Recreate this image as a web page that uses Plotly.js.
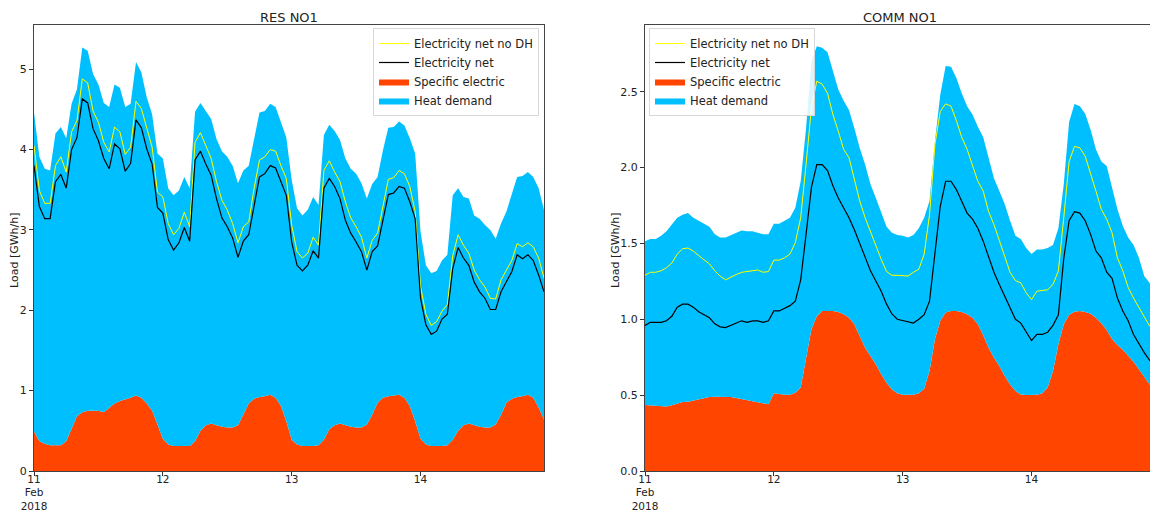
<!DOCTYPE html>
<html>
<head>
<meta charset="utf-8">
<script src="https://cdn.plot.ly/plotly-3.0.1.min.js"></script>
<style>html,body{margin:0;padding:0;background:#fff;}#chart{width:1150px;height:513px;}</style>
</head>
<body>
<div id="chart"></div>
<script>
// ---- Data (hourly, 11 Feb 2018 00:00 .. 14 Feb 2018 23:00) ----
var startDate = [2018, 1, 11];
var hoursCount = 96;
var tickDates = ['2018-02-11', '2018-02-12', '2018-02-13', '2018-02-14'];
var tickLabels = ['11<br>Feb<br>2018', '12', '13', '14'];
var seriesNames = ['Electricity net no DH', 'Electricity net', 'Specific electric', 'Heat demand'];
var panelTitles = ['RES NO1', 'COMM NO1'];

// RES NO1
var resHeatTop = [4.46,3.91,3.76,3.74,4.20,4.28,4.14,4.57,4.75,5.27,5.23,4.94,4.81,4.58,4.53,4.81,4.77,4.53,4.57,5.09,4.96,4.65,4.44,3.95,3.89,3.52,3.43,3.49,3.66,3.52,4.47,4.58,4.48,4.38,4.13,3.98,3.91,3.80,3.58,3.74,3.80,4.13,4.46,4.48,4.57,4.53,4.34,4.15,
  3.62,3.27,3.18,3.25,3.41,3.31,4.18,4.31,4.23,4.12,3.89,3.76,3.70,3.58,3.39,3.57,3.66,3.99,4.27,4.28,4.35,4.30,4.14,3.95,2.98,2.56,2.46,2.49,2.62,2.69,3.43,3.52,3.41,3.39,3.18,3.14,3.06,3.00,2.89,3.08,3.23,3.45,3.66,3.67,3.72,3.66,3.52,3.25];
var resNetNoDH = [4.05,3.49,3.33,3.33,3.80,3.91,3.72,4.22,4.36,4.88,4.83,4.48,4.34,4.09,3.97,4.28,4.22,3.94,4.03,4.60,4.51,4.26,4.03,3.47,3.41,3.08,2.94,3.02,3.22,3.04,4.09,4.21,4.05,3.89,3.60,3.37,3.25,3.08,2.84,3.04,3.10,3.52,3.87,3.91,4.00,3.98,3.80,3.64,
  3.06,2.73,2.65,2.71,2.91,2.81,3.74,3.86,3.72,3.60,3.35,3.15,3.04,2.91,2.65,2.87,2.96,3.31,3.63,3.65,3.74,3.70,3.54,3.23,2.30,1.95,1.81,1.86,1.99,2.07,2.68,2.94,2.81,2.71,2.50,2.38,2.29,2.15,2.14,2.38,2.50,2.62,2.83,2.79,2.84,2.79,2.65,2.40];
var resNet = [3.80,3.29,3.14,3.14,3.60,3.69,3.52,4.00,4.15,4.63,4.58,4.26,4.11,3.89,3.76,4.07,4.01,3.73,3.83,4.37,4.27,4.01,3.82,3.28,3.21,2.88,2.75,2.84,3.03,2.86,3.87,3.98,3.82,3.68,3.39,3.15,3.04,2.90,2.66,2.86,2.94,3.31,3.66,3.70,3.80,3.77,3.60,3.43,
  2.85,2.56,2.49,2.56,2.74,2.65,3.52,3.64,3.54,3.39,3.12,2.96,2.85,2.73,2.50,2.73,2.80,3.14,3.44,3.46,3.54,3.52,3.35,3.14,2.15,1.82,1.70,1.74,1.89,1.95,2.52,2.78,2.65,2.56,2.35,2.23,2.15,2.01,2.01,2.23,2.35,2.48,2.69,2.64,2.69,2.62,2.44,2.23];
var resSpecific = [0.49,0.37,0.34,0.32,0.32,0.32,0.37,0.52,0.68,0.73,0.75,0.75,0.75,0.73,0.78,0.84,0.87,0.89,0.91,0.94,0.91,0.84,0.75,0.58,0.40,0.33,0.31,0.31,0.31,0.31,0.37,0.50,0.57,0.59,0.57,0.55,0.54,0.54,0.57,0.70,0.84,0.90,0.92,0.93,0.95,0.91,0.81,0.62,
  0.39,0.33,0.31,0.31,0.31,0.32,0.39,0.52,0.57,0.59,0.57,0.55,0.54,0.54,0.58,0.70,0.85,0.91,0.93,0.94,0.95,0.91,0.81,0.62,0.40,0.33,0.31,0.31,0.31,0.32,0.39,0.50,0.57,0.59,0.57,0.55,0.54,0.54,0.58,0.70,0.85,0.90,0.92,0.93,0.95,0.91,0.79,0.64];

// COMM NO1
var commHeatTop = [1.515,1.53,1.53,1.55,1.58,1.625,1.67,1.69,1.70,1.67,1.65,1.625,1.61,1.56,1.54,1.54,1.555,1.57,1.585,1.58,1.58,1.57,1.56,1.56,1.63,1.63,1.65,1.67,1.735,1.91,2.26,2.70,2.80,2.79,2.76,2.64,2.515,2.44,2.38,2.26,2.13,2.02,1.89,1.80,1.70,1.61,1.57,1.555,
  1.55,1.54,1.555,1.60,1.67,1.78,2.17,2.48,2.67,2.665,2.59,2.49,2.405,2.35,2.27,2.20,2.065,1.93,1.845,1.76,1.65,1.55,1.53,1.47,1.43,1.46,1.46,1.47,1.49,1.60,1.89,2.30,2.42,2.405,2.355,2.25,2.12,2.04,2.01,1.87,1.725,1.615,1.54,1.49,1.405,1.285,1.24,1.21];
var commNetNoDH = [1.29,1.31,1.31,1.32,1.34,1.37,1.43,1.465,1.47,1.45,1.42,1.39,1.365,1.32,1.285,1.26,1.28,1.295,1.31,1.315,1.32,1.325,1.31,1.315,1.39,1.39,1.405,1.43,1.505,1.67,2.02,2.395,2.57,2.55,2.49,2.35,2.24,2.12,2.065,1.93,1.78,1.67,1.58,1.48,1.395,1.315,1.29,1.29,
  1.29,1.285,1.31,1.33,1.43,1.69,2.15,2.37,2.42,2.405,2.31,2.20,2.12,2.02,1.91,1.845,1.71,1.625,1.515,1.405,1.31,1.255,1.24,1.175,1.13,1.185,1.19,1.195,1.23,1.32,1.67,2.04,2.14,2.13,2.075,1.965,1.845,1.725,1.66,1.57,1.405,1.32,1.21,1.14,1.075,1.01,0.955,0.92];
var commNet = [0.96,0.98,0.98,0.98,0.99,1.02,1.08,1.10,1.10,1.08,1.05,1.03,1.01,0.97,0.95,0.945,0.96,0.98,0.99,0.98,0.99,0.99,0.98,0.99,1.055,1.055,1.07,1.09,1.12,1.26,1.56,1.87,2.02,2.02,1.98,1.88,1.80,1.735,1.67,1.59,1.505,1.41,1.32,1.25,1.185,1.10,1.035,1.00,
  0.99,0.985,0.975,1.00,1.03,1.12,1.45,1.745,1.91,1.91,1.855,1.78,1.70,1.66,1.60,1.515,1.405,1.31,1.23,1.15,1.075,1.00,0.975,0.915,0.86,0.90,0.90,0.915,0.96,1.03,1.40,1.65,1.71,1.70,1.65,1.56,1.45,1.405,1.31,1.27,1.14,1.055,0.99,0.90,0.84,0.78,0.73,0.70];
var commSpecific = [0.435,0.433,0.43,0.425,0.425,0.433,0.446,0.455,0.457,0.466,0.473,0.481,0.488,0.49,0.49,0.49,0.488,0.481,0.475,0.468,0.462,0.455,0.448,0.44,0.512,0.505,0.503,0.503,0.516,0.55,0.736,0.934,1.02,1.055,1.055,1.055,1.048,1.033,1.01,0.967,0.89,0.813,0.758,0.703,0.637,0.582,0.538,0.512,
  0.503,0.501,0.503,0.512,0.543,0.66,0.868,0.99,1.044,1.055,1.055,1.048,1.033,1.01,0.967,0.895,0.813,0.747,0.692,0.626,0.571,0.527,0.505,0.501,0.501,0.503,0.512,0.55,0.66,0.835,0.967,1.03,1.05,1.055,1.048,1.037,1.01,0.974,0.93,0.87,0.83,0.80,0.76,0.72,0.67,0.62,0.57,0.54];

// ---- Time index ----
function pad(n){ return (n < 10 ? '0' : '') + n; }
var times = [];
for (var i = 0; i < hoursCount; i++) {
  var d = new Date(Date.UTC(startDate[0], startDate[1], startDate[2], i));
  times.push(d.getUTCFullYear() + '-' + pad(d.getUTCMonth() + 1) + '-' + pad(d.getUTCDate()) + ' ' + pad(d.getUTCHours()) + ':00');
}

var C_BLUE = '#00BFFF', C_ORANGE = '#FF4500', C_YELLOW = '#FFFF00', C_BLACK = '#000000';

function panel(xa, ya, leg, spec, heatTop, netNoDH, net) {
  return [
    {x: times, y: spec, type: 'scatter', mode: 'lines', line: {width: 0, color: C_ORANGE}, fill: 'tozeroy', fillcolor: C_ORANGE,
     name: seriesNames[2], legend: leg, legendrank: 3, xaxis: xa, yaxis: ya, hoverinfo: 'skip'},
    {x: times, y: heatTop, type: 'scatter', mode: 'lines', line: {width: 0, color: C_BLUE}, fill: 'tonexty', fillcolor: C_BLUE,
     name: seriesNames[3], legend: leg, legendrank: 4, xaxis: xa, yaxis: ya, hoverinfo: 'skip'},
    {x: times, y: netNoDH, type: 'scatter', mode: 'lines', line: {width: 1, color: C_YELLOW},
     name: seriesNames[0], legend: leg, legendrank: 1, xaxis: xa, yaxis: ya, hoverinfo: 'skip'},
    {x: times, y: net, type: 'scatter', mode: 'lines', line: {width: 1.2, color: C_BLACK},
     name: seriesNames[1], legend: leg, legendrank: 2, xaxis: xa, yaxis: ya, hoverinfo: 'skip'}
  ];
}

var data = [].concat(
  panel('x', 'y', 'legend', resSpecific, resHeatTop, resNetNoDH, resNet),
  panel('x2', 'y2', 'legend2', commSpecific, commHeatTop, commNetNoDH, commNet)
);

var W = 1150, H = 513;
var ydom = [(H - 471) / H, (H - 25) / H];
var font = 'DejaVu Sans, sans-serif';
var axisCommon = {showgrid: false, zeroline: false, ticks: 'outside', ticklen: 4, tickwidth: 1, tickcolor: '#333',
  showline: true, linecolor: '#444', linewidth: 1, tickfont: {family: font, size: 11, color: '#222'}};
var xTickFont = {family: font, size: 10.5, color: '#222'};

var legendCommon = {bgcolor: 'rgba(255,255,255,0.85)', bordercolor: '#d8d8d8', borderwidth: 1,
  font: {family: font, size: 11.5, color: '#222'}, yanchor: 'top', y: (H - 28) / H, traceorder: 'normal'};

var layout = {
  width: W, height: H,
  margin: {l: 0, r: 0, t: 0, b: 0},
  paper_bgcolor: '#fff', plot_bgcolor: '#fff',
  showlegend: true,
  xaxis: Object.assign({}, axisCommon, {domain: [34 / W, 544 / W], anchor: 'y', type: 'date', mirror: true, tickfont: xTickFont,
    range: [times[0], times[hoursCount - 1]], tickmode: 'array', tickvals: tickDates, ticktext: tickLabels, ticklabelstandoff: -6}),
  yaxis: Object.assign({}, axisCommon, {domain: ydom, anchor: 'x', range: [0, 5.55], dtick: 1, tick0: 0, mirror: true}),
  xaxis2: Object.assign({}, axisCommon, {domain: [645 / W, 1], anchor: 'y2', type: 'date', mirror: true, tickfont: xTickFont,
    range: [times[0], '2018-02-14 22:04'], tickmode: 'array', tickvals: tickDates, ticktext: tickLabels, ticklabelstandoff: -6}),
  yaxis2: Object.assign({}, axisCommon, {domain: ydom, anchor: 'x2', range: [0, 2.94], dtick: 0.5, tick0: 0, tickformat: '.1f', mirror: false}),
  legend: Object.assign({}, legendCommon, {x: 539 / W, xanchor: 'right'}),
  legend2: Object.assign({}, legendCommon, {x: 649 / W, xanchor: 'left'}),
  annotations: [
    {text: panelTitles[0], x: 289 / W, y: (H - 17) / H, xref: 'paper', yref: 'paper', showarrow: false,
     xanchor: 'center', yanchor: 'middle', font: {family: font, size: 13, color: '#222'}},
    {text: panelTitles[1], x: 900 / W, y: (H - 17) / H, xref: 'paper', yref: 'paper', showarrow: false,
     xanchor: 'center', yanchor: 'middle', font: {family: font, size: 13, color: '#222'}},
    {text: 'Load [GWh/h]', x: 14 / W, y: (H - 250) / H, xref: 'paper', yref: 'paper', showarrow: false, textangle: -90,
     xanchor: 'center', yanchor: 'middle', font: {family: font, size: 11, color: '#222'}},
    {text: 'Load [GWh/h]', x: 615 / W, y: (H - 250) / H, xref: 'paper', yref: 'paper', showarrow: false, textangle: -90,
     xanchor: 'center', yanchor: 'middle', font: {family: font, size: 11, color: '#222'}}
  ]
};

Plotly.newPlot('chart', data, layout, {displayModeBar: false, staticPlot: true});
</script>
</body>
</html>
